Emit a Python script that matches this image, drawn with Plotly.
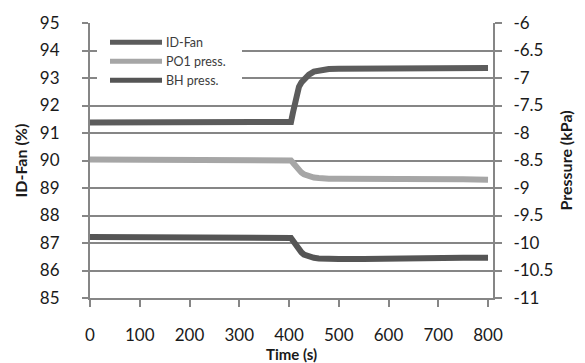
import plotly.graph_objects as go

# ---- data ----
time_s = [0, 100, 200, 300, 400, 404, 408, 412, 416, 420, 425, 430, 440, 450, 460,
          470, 480, 500, 550, 600, 650, 700, 750, 800]
id_fan = [91.38, 91.38, 91.38, 91.38, 91.38, 91.40, 91.75, 92.15, 92.48, 92.68, 92.84,
          92.96, 93.12, 93.23, 93.28, 93.31, 93.33, 93.34, 93.35, 93.36, 93.36, 93.35,
          93.36, 93.36]
po1_press = [-8.48, -8.48, -8.48, -8.48, -8.48, -8.50, -8.54, -8.59, -8.64, -8.68, -8.72,
             -8.75, -8.79, -8.81, -8.82, -8.83, -8.83, -8.83, -8.83, -8.82, -8.83, -8.84,
             -8.84, -8.85]
bh_press = [-9.89, -9.89, -9.89, -9.89, -9.89, -9.91, -9.96, -10.02, -10.08, -10.13,
            -10.17, -10.21, -10.25, -10.27, -10.28, -10.285, -10.29, -10.29, -10.29,
            -10.28, -10.28, -10.28, -10.27, -10.27]

series_names = ["ID-Fan", "PO1 press.", "BH press."]
x_ticks = [0, 100, 200, 300, 400, 500, 600, 700, 800]
left_ticks = [85, 86, 87, 88, 89, 90, 91, 92, 93, 94, 95]
right_ticks = [-11, -10.5, -10, -9.5, -9, -8.5, -8, -7.5, -7, -6.5, -6]
right_ticktext = ["-11", "-10.5", "-10", "-9.5", "-9", "-8.5", "-8", "-7.5", "-7", "-6.5", "-6"]

# ---- style ----
W, H = 585, 363
ML, MR, MT, MB = 90, 92, 14, 65
PW, PH = W - ML - MR, H - MT - MB
FONT = "Lato"
GRID = "#868686"
TICKFONT = dict(family=FONT, size=17, color="#1a1a1a")
colors = ["#5c5c5c", "#a6a6a6", "#555555"]
LW = 6


def px_x(px):
    return (px - ML) / PW


def px_y(py):
    return (H - MB - py) / PH


fig = go.Figure()
fig.add_trace(go.Scatter(x=time_s, y=id_fan, name=series_names[0], mode="lines",
                         line=dict(color=colors[0], width=LW), yaxis="y"))
fig.add_trace(go.Scatter(x=time_s, y=po1_press, name=series_names[1], mode="lines",
                         line=dict(color=colors[1], width=LW), yaxis="y2"))
fig.add_trace(go.Scatter(x=time_s, y=bh_press, name=series_names[2], mode="lines",
                         line=dict(color=colors[2], width=LW), yaxis="y2"))

fig.update_layout(
    width=W, height=H,
    margin=dict(l=ML, r=MR, t=MT, b=MB, pad=0),
    paper_bgcolor="white", plot_bgcolor="white",
    showlegend=False,
    xaxis=dict(range=[0, 810], tickvals=x_ticks, ticktext=[str(v) for v in x_ticks],
               showgrid=False, zeroline=False, showline=True, linecolor=GRID, linewidth=2,
               ticks="outside", ticklen=7, tickwidth=1.5, tickcolor=GRID,
               tickfont=TICKFONT, ticklabelstandoff=14),
    yaxis=dict(range=[85, 95], tickvals=left_ticks, ticktext=[str(v) for v in left_ticks],
               showgrid=True, gridcolor=GRID, gridwidth=1.6, zeroline=False,
               showline=True, linecolor=GRID, linewidth=2,
               ticks="outside", ticklen=6, tickwidth=1.6, tickcolor=GRID,
               tickfont=TICKFONT, ticklabelstandoff=19),
    yaxis2=dict(range=[-11, -6], overlaying="y", side="right", tickvals=right_ticks,
                ticktext=right_ticktext, showgrid=False, zeroline=False,
                showline=True, linecolor=GRID, linewidth=2,
                ticks="outside", ticklen=7, tickwidth=1.6, tickcolor=GRID,
                tickfont=TICKFONT, ticklabelstandoff=8),
)

# axis titles
title_font = dict(family=FONT, size=16, color="#1a1a1a", weight="bold")
fig.add_annotation(text="ID-Fan (%)", xref="paper", yref="paper", x=0, y=0.5,
                   xshift=20 - ML, textangle=-90, showarrow=False, font=title_font,
                   xanchor="center", yanchor="middle")
fig.add_annotation(text="Pressure (kPa)", xref="paper", yref="paper", x=1, y=0.5,
                   xshift=565 - (W - MR), textangle=-90, showarrow=False, font=title_font,
                   xanchor="center", yanchor="middle")
fig.add_annotation(text="Time (s)", xref="paper", yref="paper", x=0.5, y=0,
                   yshift=-(353.5 - (H - MB)), showarrow=False,
                   font=dict(family=FONT, size=15, color="#1a1a1a", weight="bold"),
                   xanchor="center", yanchor="middle")

# custom legend
fig.add_shape(type="rect", xref="paper", yref="paper", x0=px_x(97), x1=px_x(242),
              y0=px_y(86), y1=px_y(21), fillcolor="white", line=dict(width=0), layer="above")
leg_rows = [34, 53.5, 73]
for name, col, ry in zip(series_names, colors, leg_rows):
    fig.add_shape(type="line", xref="paper", yref="paper", x0=px_x(110), x1=px_x(162),
                  y0=px_y(ry), y1=px_y(ry), line=dict(color=col, width=5), layer="above")
    fig.add_annotation(text=name, xref="paper", yref="paper", x=px_x(164), y=px_y(ry),
                       xanchor="left", yanchor="middle", showarrow=False,
                       font=dict(family=FONT, size=12.5, color="#3c3c3c"))

fig.write_html("out.html")
